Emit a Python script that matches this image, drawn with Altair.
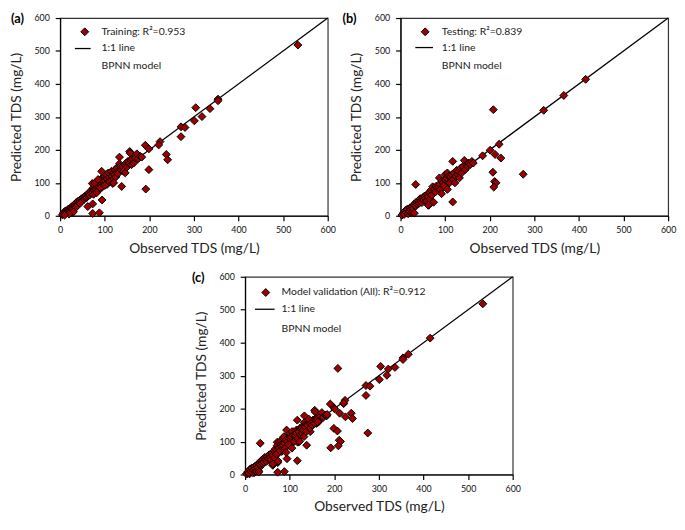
import altair as alt
import pandas as pd

# ---------------- data ----------------
train_obs = [5, 8, 10, 12, 14, 16, 18, 20, 22, 24, 25, 27, 28, 30, 32, 33, 35, 36, 38, 40,
             41, 43, 45, 46, 48, 50, 52, 54, 55, 57, 58, 60, 62, 63, 65, 66, 28, 35, 45, 30,
             20, 10,
             68, 70, 72, 73, 75, 76, 78, 80, 81, 83, 85, 86, 88, 90, 91, 93, 95, 96, 98, 100,
             101, 103, 105, 106, 108, 110, 112, 113, 115, 116, 118, 120, 122, 123, 125, 127, 128, 130,
             72, 78, 85, 93, 88, 95, 105, 110, 118, 120, 75, 82, 90, 100,
             133, 133, 135, 137, 140, 142, 145, 146, 148, 150, 152, 155, 156, 157, 158, 160, 162, 165,
             168, 172, 175, 180, 183, 138,
             533, 354, 354, 304, 301, 318, 336, 271, 280, 271, 224, 221, 238, 241, 191, 199, 199, 192,
             94, 73, 73, 88, 62]
train_pred = [3, 10, 6, 15, 12, 8, 20, 17, 14, 25, 20, 10, 30, 26, 22, 35, 31, 40, 33, 44,
              37, 40, 48, 43, 52, 46, 55, 50, 58, 54, 62, 56, 66, 60, 70, 63, 18, 25, 38, 12,
              5, 2,
              75, 68, 80, 72, 85, 78, 90, 82, 95, 88, 100, 92, 105, 96, 110, 100, 115, 105, 95, 120,
              108, 125, 112, 100, 130, 118, 105, 125, 135, 120, 110, 130, 125, 140, 118, 145, 132, 128,
              98, 100, 110, 135, 80, 88, 95, 102, 98, 100, 65, 70, 85, 92,
              178, 158, 150, 138, 150, 135, 155, 130, 160, 148, 165, 158, 195, 190, 170, 155, 172, 160,
              175, 188, 173, 180, 178, 89,
              518, 354, 349, 328, 288, 301, 325, 270, 268, 240, 225, 215, 186, 170, 214, 203, 140, 81,
              48, 36, 7, 9, 28]

test_obs = [3, 6, 8, 11, 13, 15, 17, 19, 21, 23, 25, 26, 28, 30, 31, 33, 34, 34, 36, 38,
            40, 42, 44, 46, 48, 50, 52, 54, 56, 58, 60, 62, 63, 65, 66, 68, 70, 72, 74, 62,
            75, 78, 80, 82, 85, 87, 88, 90, 92, 92, 95, 97, 100, 100, 103, 105, 105, 108, 110, 112,
            115, 117, 117, 118, 120, 122, 124, 126, 128, 130, 132, 135, 137, 140, 143, 145, 148, 150,
            153, 156, 160, 163,
            415, 366, 321, 208, 221, 225, 212, 201, 184, 275, 207, 211, 214, 209]
test_pred = [2, 8, 4, 16, 10, 20, 6, 14, 24, 18, 10, 28, 22, 34, 8, 38, 30, 95, 42, 35,
             46, 38, 52, 45, 40, 55, 48, 60, 52, 45, 65, 58, 32, 72, 50, 78, 62, 88, 41, 32,
             80, 72, 90, 85, 88, 115, 95, 80, 67, 105, 100, 92, 110, 125, 115, 80, 130, 120, 100, 118,
             125, 165, 42, 110, 130, 100, 120, 138, 125, 135, 115, 145, 130, 150, 168, 140, 155, 150,
             160, 155, 165, 160,
             414, 365, 320, 322, 217, 175, 186, 199, 182, 126, 132, 104, 100, 87]

# validation (all) = training + testing
all_obs = train_obs + test_obs
all_pred = train_pred + test_pred

one_to_one = [0, 600]
tick_values = [0, 100, 200, 300, 400, 500, 600]

panel_letters = ["(a)", "(b)", "(c)"]
legend_titles = ["Training: R\u00b2=0.953", "Testing: R\u00b2=0.839",
                 "Model validation (All): R\u00b2=0.912"]
line_label = "1:1 line"
model_label = "BPNN model"
x_title = "Observed TDS (mg/L)"
y_title = "Predicted TDS (mg/L)"

# ---------------- styling ----------------
FONT = "Lato"
RED = "#9e0000"
W, H = 272, 201

one_row = pd.DataFrame({"k": [0]})
line_df = pd.DataFrame({"obs": one_to_one, "pred": one_to_one})


def panel(obs, pred, letter, legend_title, lay):
    df = pd.DataFrame({"obs": obs, "pred": pred})
    xs = alt.Scale(domain=[0, 600], nice=False)
    ys = alt.Scale(domain=[0, 600], nice=False)
    xax = alt.Axis(title=x_title, values=tick_values, labelPadding=5, titlePadding=7)
    yax = alt.Axis(title=y_title, values=tick_values, labelPadding=6, titlePadding=11)

    line = alt.Chart(line_df).mark_line(color="black", strokeWidth=1.3).encode(
        x=alt.X("obs:Q", scale=xs, axis=xax),
        y=alt.Y("pred:Q", scale=ys, axis=yax),
    )
    pts = alt.Chart(df).mark_point(shape="diamond", filled=True, size=64, fill=RED,
                                   stroke="black", strokeWidth=1, opacity=1).encode(
        x=alt.X("obs:Q", scale=xs, axis=xax),
        y=alt.Y("pred:Q", scale=ys, axis=yax))

    lx_d, ly_d, lx_t, lx0, lx1, ly_l, ly_m = lay
    leg_pt = alt.Chart(one_row).mark_point(shape="diamond", filled=True, size=64, fill=RED,
                                           stroke="black", strokeWidth=1, opacity=1).encode(
        x=alt.value(lx_d), y=alt.value(ly_d))
    txt = dict(align="left", baseline="middle", font=FONT, fontSize=10.6, color="#222")
    leg_t1 = alt.Chart(one_row).mark_text(text=legend_title, **txt).encode(
        x=alt.value(lx_t), y=alt.value(ly_d))
    leg_line = alt.Chart(one_row).mark_rule(color="black", strokeWidth=1.3).encode(
        x=alt.value(lx0), x2=alt.value(lx1), y=alt.value(ly_l))
    leg_t2 = alt.Chart(one_row).mark_text(text=line_label, **txt).encode(
        x=alt.value(lx_t), y=alt.value(ly_l))
    leg_t3 = alt.Chart(one_row).mark_text(text=model_label, **txt).encode(
        x=alt.value(lx_t), y=alt.value(ly_m))
    lab_x = {"(a)": -50, "(b)": -59, "(c)": -54}[letter]
    lab = alt.Chart(one_row).mark_text(text=letter, align="left", baseline="middle",
                                       font=FONT, fontSize=13, fontWeight="bold",
                                       color="black").encode(
        x=alt.value(lab_x), y=alt.value(1))
    return alt.layer(line, pts, leg_pt, leg_t1, leg_line, leg_t2, leg_t3, lab).properties(
        width=W, height=H, view=alt.ViewBackground(stroke="#333", strokeWidth=1.2))


pa = panel(train_obs, train_pred, panel_letters[0], legend_titles[0],
           (25, 14, 42, 15, 31, 31, 49))
pb = panel(test_obs, test_pred, panel_letters[1], legend_titles[1],
           (25, 14, 42, 15, 33, 30, 49))
pc = panel(all_obs, all_pred, panel_letters[2], legend_titles[2],
           (21, 16, 37, 10, 30, 33, 53))

spacer = alt.Chart(one_row).mark_point(opacity=0).encode(
    x=alt.value(0), y=alt.value(0)).properties(
    width=132, height=10, view=alt.ViewBackground(stroke="transparent"))

top = alt.hconcat(pa, pb, spacing=5)
bottom = alt.hconcat(spacer, pc, spacing=0)
chart = alt.vconcat(top, bottom, spacing=15).properties(
    padding={"left": 0, "top": 0, "right": 0, "bottom": 0}
).configure_axis(
    grid=False, domainColor="black", domainWidth=1.2, tickColor="black", tickSize=5,
    tickWidth=1.2, labelFontSize=9, labelFont=FONT, labelColor="#111", titleFont=FONT,
    titleFontSize=14, titleFontWeight="normal", titleColor="#222", labelOverlap=False,
    labelFlush=False, labelSeparation=0
)

chart.save("out.html", embed_options={"renderer": "svg", "actions": False})
